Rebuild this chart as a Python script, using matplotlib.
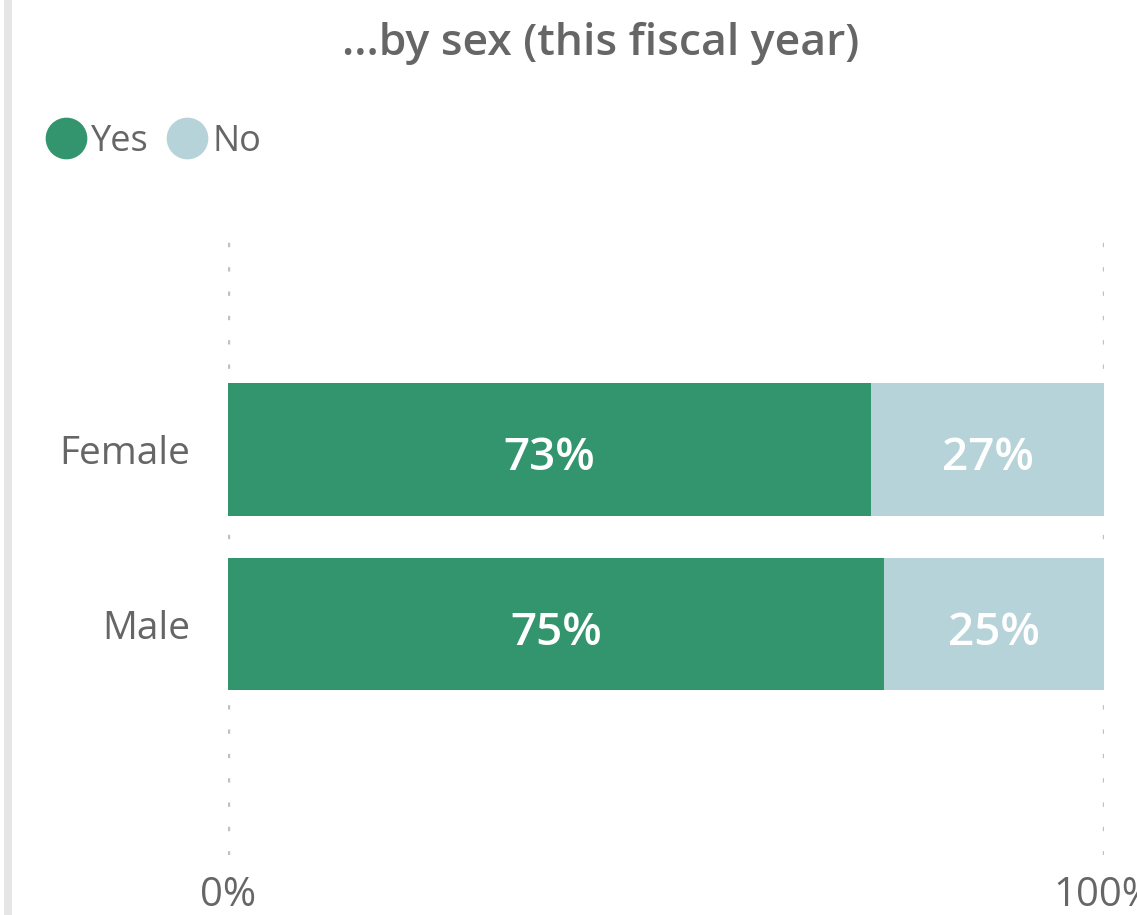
import matplotlib.pyplot as plt
from matplotlib.lines import Line2D
from matplotlib.patches import Rectangle

categorias = ["Female", "Male"]
sim = [73.4, 74.9]
nao = [26.6, 25.1]
series = ["Yes", "No"]
cores = ["#33956D", "#B5D3D8"]
cinza = "#666666"

plt.rcParams["font.family"] = ["Open Sans", "DejaVu Sans"]

fig = plt.figure(figsize=(11.37, 9.15), dpi=100)
ax = fig.add_axes([0.2005, 0.0656, 0.7705, 0.6852])

y = list(range(len(categorias)))
b1 = ax.barh(y, sim, height=0.76, color=cores[0])
b2 = ax.barh(y, nao, left=sim, height=0.76, color=cores[1])

for barras in (b1, b2):
    rotulos = ax.bar_label(barras, labels=[f"{v:.0f}%" for v in barras.datavalues],
                           label_type="center", color="white", fontsize=33,
                           fontweight="semibold")
    for r in rotulos:
        r.xyann = (0, -6.5)  # desce um pouco, como no original

ax.set_xlim(0, 100)
ax.set_ylim(2.32, -1.263)
ax.set_yticks(y)
ax.set_yticklabels(categorias, fontsize=28, color=cinza)
ax.set_xticks([0, 100])
ax.set_xticklabels(["0%", "100%"], fontsize=29, color=cinza)
ax.tick_params(axis="y", length=0, pad=27)
ax.tick_params(axis="x", length=0, pad=15)
for s in ax.spines.values():
    s.set_visible(False)
for xv in (0, 100):
    ax.axvline(xv, color="#C0C0C0", lw=2.4, ls=(0, (1.3, 6.0)), zorder=0)

fig.text(0.528, 0.953, "...by sex (this fiscal year)", ha="center", va="center",
         fontsize=32, fontweight="semibold", color=cinza)

handles = [Line2D([], [], marker="o", ls="", markersize=29, color=c) for c in cores]
leg = fig.legend(handles, series, loc="center left", bbox_to_anchor=(0.0422, 0.845),
                 ncol=2, frameon=False, fontsize=26, handletextpad=0.2,
                 columnspacing=0.55, handlelength=1.0, borderpad=0, borderaxespad=0)
for t in leg.get_texts():
    t.set_color(cinza)

fig.add_artist(Rectangle((4 / 1137, 0), 8 / 1137, 1, transform=fig.transFigure,
                         color="#E6E6E6", lw=0))

fig.savefig("out.png", dpi=100)
